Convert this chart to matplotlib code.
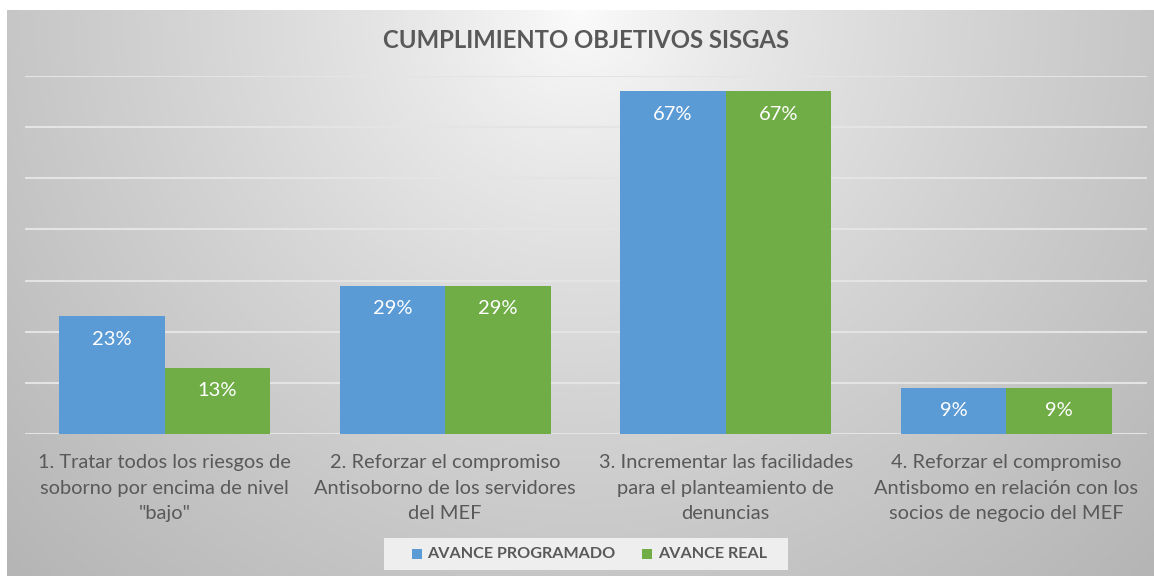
import numpy as np
import matplotlib
matplotlib.use("Agg")
import matplotlib.pyplot as plt
from matplotlib.patches import Rectangle

categories = [
    '1. Tratar todos los riesgos de\nsoborno por encima de nivel\n"bajo"',
    '2. Reforzar el compromiso\nAntisoborno de los servidores\ndel MEF',
    '3. Incrementar las facilidades\npara el planteamiento de\ndenuncias',
    '4. Reforzar el compromiso\nAntisbomo en relación con los\nsocios de negocio del MEF',
]
series_names = ["AVANCE PROGRAMADO", "AVANCE REAL"]
avance_programado = [0.23, 0.29, 0.67, 0.09]
avance_real = [0.13, 0.29, 0.67, 0.09]
colors = ["#5B9BD5", "#70AD47"]

plt.rcParams['font.family'] = ['Lato', 'DejaVu Sans']

W, H = 1154, 576
fig = plt.figure(figsize=(W / 100, H / 100), dpi=100)
fig.patch.set_facecolor("white")

# background gradient
bg = fig.add_axes([7 / W, 0, 1 - 7 / W, 1 - 10 / H], zorder=0)
ny, nx = 300, 600
yy, xx = np.mgrid[0:ny, 0:nx]
xf = (xx / (nx - 1) - 0.5) / 0.5
yf = yy / (ny - 1)
d = np.sqrt(xf ** 2 + yf ** 2)
v = (252 - 54 * d ** 0.8) / 255.0
v = np.clip(v, 0, 1)
img = np.dstack([v, v, v])
bg.imshow(img, aspect="auto", extent=[0, 1, 0, 1], origin="upper", interpolation="bilinear")
bg.set_axis_off()

L, R, T, B = 24.5, 1146.5, 76, 434
ax = fig.add_axes([L / W, 1 - B / H, (R - L) / W, (B - T) / H], zorder=1)
ax.patch.set_alpha(0)

x = np.arange(len(categories))
bw = 0.376
b1 = ax.bar(x - bw / 2, avance_programado, bw, color=colors[0], zorder=3)
b2 = ax.bar(x + bw / 2, avance_real, bw, color=colors[1], zorder=3)

for bars, vals in ((b1, avance_programado), (b2, avance_real)):
    for r, val in zip(bars, vals):
        ax.annotate(f"{val:.0%}", (r.get_x() + r.get_width() / 2, val),
                    xytext=(0, -16.5), textcoords="offset points",
                    ha="center", va="center", color="white", fontsize=14.5, zorder=4)

ax.set_ylim(0, 0.70)
ax.set_xlim(-0.5, 3.5)
ax.set_yticks(np.arange(0, 0.71, 0.1))
ax.yaxis.grid(True, color="#e4e4e4", linewidth=1.5, zorder=1)
ax.tick_params(axis="y", left=False, labelleft=False)
ax.tick_params(axis="x", bottom=False)
for s in ax.spines.values():
    s.set_visible(False)
ax.set_xticks(x)
ax.set_xticklabels(categories, fontsize=14.4, color="#595959", linespacing=1.6)
ax.tick_params(axis="x", pad=11)

fig.text(586 / W, 1 - 40 / H, "CUMPLIMIENTO OBJETIVOS SISGAS", ha="center", va="center",
         fontsize=17.2, fontweight="bold", color="#595959")

# legend (drawn manually in figure pixels)
def fx(px):
    return px / W

def fy(py):
    return 1 - py / H

fig.patches.append(Rectangle((fx(384), fy(570)), fx(788) - fx(384), fy(538) - fy(570),
                             transform=fig.transFigure, facecolor="#eeeeee",
                             edgecolor="none", zorder=2))
legend_x = [(412, 427), (642, 658)]
for (mx, tx), name, c in zip(legend_x, series_names, colors):
    fig.patches.append(Rectangle((fx(mx), fy(559)), fx(10), 10 / H,
                                 transform=fig.transFigure, facecolor=c,
                                 edgecolor="none", zorder=3))
    fig.text(fx(tx), fy(553.5), name, ha="left", va="center", fontsize=11.6,
             fontweight="bold", color="#595959", zorder=4)

fig.savefig("out.png", dpi=100)
